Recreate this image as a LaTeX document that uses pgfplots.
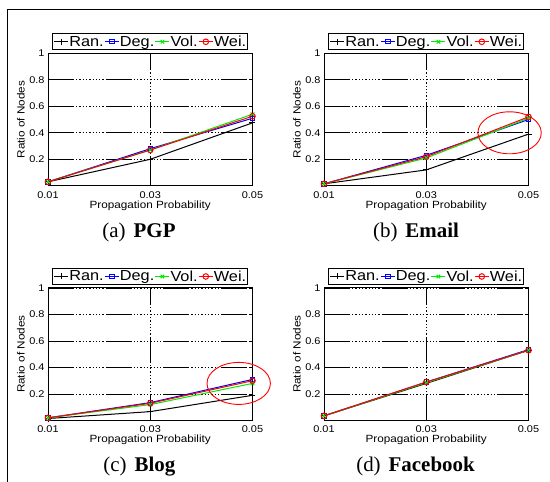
\documentclass[border=0pt]{standalone}
\usepackage{fontspec}
\setmainfont{Liberation Serif}
\newfontfamily\axfont[FakeStretch=1.12]{Liberation Sans}
\usepackage{pgfplots}
\pgfplotsset{compat=1.18}

\definecolor{mblue}{RGB}{0,0,255}
\definecolor{mgreen}{RGB}{0,235,0}
\definecolor{mred}{RGB}{255,0,0}

\pgfplotsset{
 myax/.style={
  scale only axis, width=204.5bp, height=132.5bp,
  xmin=0.01, xmax=0.05, ymin=0, ymax=1,
  scaled x ticks=false, scaled y ticks=false,
  xtick={0.01,0.03,0.05}, xticklabels={0.01,0.03,0.05},
  ytick={0.2,0.4,0.6,0.8,1}, yticklabels={0.2,0.4,0.6,0.8,1},
  grid=major,
  major grid style={black, line width=0.9bp, dash pattern=on 26bp off 2bp on 1.3bp off 2bp on 1.3bp off 2bp on 1.3bp off 2bp on 1.3bp off 2bp on 1.3bp off 2bp on 1.3bp off 2bp on 1.3bp off 2bp on 1.3bp off 2bp on 1.3bp off 2bp},
  tick align=inside, major tick length=3bp, tick style={black, line width=0.6bp},
  axis line style={black, line width=1bp},
  ticklabel style={font=\axfont\fontsize{9.8}{10}\selectfont, text=black},
  xticklabel style={anchor=base, yshift=-12.5bp},
  xlabel={Propagation Probability}, ylabel={Ratio of Nodes},
  label style={font=\axfont\fontsize{10.5}{12}\selectfont},
  xlabel style={at={(axis description cs:0.5,-0.1698)}, anchor=base},
  ylabel style={at={(axis description cs:-0.132,0.5)}, anchor=center},
  legend columns=4,
  legend style={at={(axis description cs:0.5,1.0226)}, anchor=south, draw=black, line width=1bp,
    font=\axfont\fontsize{14.6}{15}\selectfont, inner xsep=1bp, inner ysep=0.5bp,
    nodes={inner xsep=0.6bp, inner ysep=1.5bp},
    /tikz/every even column/.append style={column sep=0bp}},
  legend image code/.code={\draw[mark repeat=2,mark phase=2] plot coordinates {(0bp,0bp) (7bp,0bp) (14bp,0bp)};},
  clip=false,
 },
 ran/.style={black, line width=1bp, mark=+, mark size=3bp},
 deg/.style={mblue, line width=1bp, mark=square, mark size=2.2bp},
 vol/.style={mgreen, line width=1bp, mark=x, mark size=2.5bp},
 wei/.style={mred, line width=1bp, mark=o, mark size=2.8bp},
}

\begin{document}
\begin{tikzpicture}
\useasboundingbox (0,0) rectangle (550bp,482bp);
\draw[line width=1bp] (7.3bp,0) -- (7.3bp,472.7bp) -- (550bp,472.7bp);

% (a) PGP
\begin{axis}[myax, at={(48bp,296.2bp)}, anchor=south west]
\addplot[ran] coordinates {(0.01,0.03) (0.03,0.20) (0.05,0.475)};
\addplot[deg] coordinates {(0.01,0.03) (0.03,0.28) (0.05,0.51)};
\addplot[vol] coordinates {(0.01,0.03) (0.03,0.27) (0.05,0.54)};
\addplot[wei] coordinates {(0.01,0.03) (0.03,0.27) (0.05,0.525)};
\legend{Ran.,Deg.,Vol.,Wei.}
\end{axis}

% (b) Email
\begin{axis}[myax, at={(324bp,296.2bp)}, anchor=south west]
\addplot[ran] coordinates {(0.01,0.015) (0.03,0.12) (0.05,0.39)};
\addplot[deg] coordinates {(0.01,0.015) (0.03,0.23) (0.05,0.50)};
\addplot[vol] coordinates {(0.01,0.015) (0.03,0.21) (0.05,0.51)};
\addplot[wei] coordinates {(0.01,0.015) (0.03,0.22) (0.05,0.52)};
\legend{Ran.,Deg.,Vol.,Wei.}
\draw[mred, line width=0.9bp] (axis cs:0.0463,0.4) ellipse [x radius=31.7bp, y radius=21bp];
\end{axis}

% (c) Blog
\begin{axis}[myax, at={(48bp,61.5bp)}, anchor=south west]
\addplot[ran] coordinates {(0.01,0.015) (0.03,0.067) (0.05,0.19)};
\addplot[deg] coordinates {(0.01,0.02) (0.03,0.135) (0.05,0.31)};
\addplot[vol] coordinates {(0.01,0.02) (0.03,0.12) (0.05,0.28)};
\addplot[wei] coordinates {(0.01,0.02) (0.03,0.13) (0.05,0.30)};
\legend{Ran.,Deg.,Vol.,Wei.}
\draw[mred, line width=0.9bp] (axis cs:0.0473,0.28) ellipse [x radius=31.7bp, y radius=21bp];
\end{axis}

% (d) Facebook
\begin{axis}[myax, at={(324bp,61.5bp)}, anchor=south west]
\addplot[ran] coordinates {(0.01,0.035) (0.03,0.28) (0.05,0.53)};
\addplot[deg] coordinates {(0.01,0.035) (0.03,0.29) (0.05,0.535)};
\addplot[vol] coordinates {(0.01,0.035) (0.03,0.285) (0.05,0.53)};
\addplot[wei] coordinates {(0.01,0.035) (0.03,0.29) (0.05,0.53)};
\legend{Ran.,Deg.,Vol.,Wei.}
\end{axis}

\node[anchor=base, font=\fontsize{21}{24}\selectfont] at (139bp,244.7bp) {(a)\hspace{8bp}\textbf{PGP}};
\node[anchor=base, font=\fontsize{21}{24}\selectfont] at (416bp,244.7bp) {(b)\hspace{8bp}\textbf{Email}};
\node[anchor=base, font=\fontsize{21}{24}\selectfont] at (139.3bp,10.3bp) {(c)\hspace{8bp}\textbf{Blog}};
\node[anchor=base, font=\fontsize{21}{24}\selectfont] at (415.5bp,10.3bp) {(d)\hspace{8bp}\textbf{Facebook}};
\end{tikzpicture}
\end{document}
